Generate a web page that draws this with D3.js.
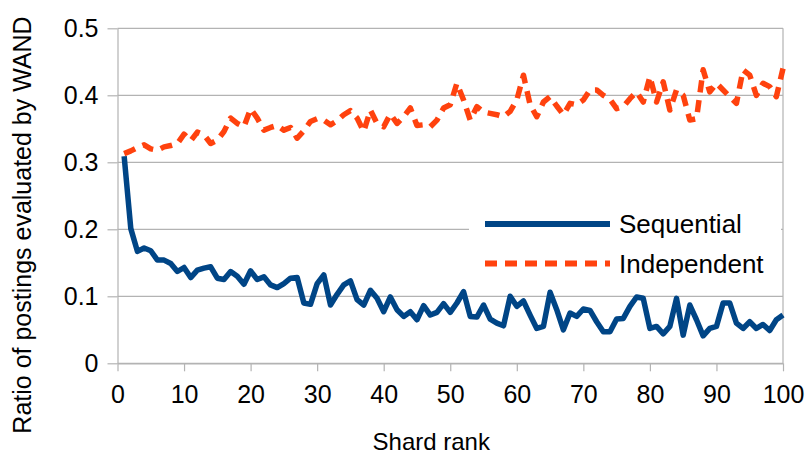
<!DOCTYPE html>
<html>
<head>
<meta charset="utf-8">
<script src="https://cdn.jsdelivr.net/npm/d3@7"></script>
<style>
  body { margin: 0; background: #fff; }
  svg { font-family: "Liberation Sans", Arial, sans-serif; }
</style>
</head>
<body>
<svg id="chart" width="806" height="457"></svg>
<script>
// shard rank 1..100
const ranks = d3.range(1, 101);

const sequential = [
  0.309, 0.201, 0.167, 0.172, 0.168, 0.154, 0.154, 0.149, 0.137, 0.143,
  0.128, 0.139, 0.142, 0.144, 0.127, 0.125, 0.137, 0.130, 0.118, 0.138,
  0.125, 0.129, 0.117, 0.113, 0.119, 0.127, 0.128, 0.090, 0.088, 0.119,
  0.132, 0.087, 0.103, 0.117, 0.123, 0.095, 0.087, 0.109, 0.097, 0.077,
  0.099, 0.080, 0.070, 0.077, 0.065, 0.086, 0.072, 0.076, 0.089, 0.076,
  0.090, 0.107, 0.070, 0.069, 0.087, 0.066, 0.060, 0.056, 0.100, 0.085,
  0.093, 0.072, 0.052, 0.055, 0.106, 0.080, 0.050, 0.075, 0.070, 0.081,
  0.079, 0.062, 0.047, 0.047, 0.066, 0.067, 0.085, 0.099, 0.097, 0.052,
  0.055, 0.044, 0.055, 0.097, 0.042, 0.087, 0.065, 0.041, 0.052, 0.055,
  0.090, 0.090, 0.060, 0.052, 0.062, 0.052, 0.058, 0.049, 0.065, 0.072
];

const independent = [
  0.313, 0.317, 0.322, 0.326, 0.320, 0.318, 0.323, 0.325, 0.328, 0.342,
  0.332, 0.345, 0.341, 0.328, 0.333, 0.346, 0.366, 0.358, 0.353, 0.380,
  0.366, 0.348, 0.352, 0.355, 0.348, 0.352, 0.336, 0.347, 0.361, 0.365,
  0.363, 0.356, 0.362, 0.371, 0.377, 0.366, 0.346, 0.378, 0.358, 0.353,
  0.372, 0.358, 0.368, 0.381, 0.355, 0.356, 0.353, 0.363, 0.381, 0.386,
  0.418, 0.393, 0.363, 0.383, 0.375, 0.373, 0.371, 0.368, 0.376, 0.393,
  0.430, 0.386, 0.368, 0.390, 0.398, 0.384, 0.371, 0.388, 0.386, 0.393,
  0.408, 0.408, 0.400, 0.394, 0.380, 0.383, 0.395, 0.405, 0.390, 0.428,
  0.390, 0.420, 0.378, 0.408, 0.400, 0.363, 0.365, 0.438, 0.405, 0.418,
  0.408, 0.398, 0.388, 0.438, 0.430, 0.400, 0.418, 0.413, 0.398, 0.440
];

const seriesNames = ["Sequential", "Independent"];
const xTicks = [0, 10, 20, 30, 40, 50, 60, 70, 80, 90, 100];
const yTicks = [0, 0.1, 0.2, 0.3, 0.4, 0.5];

const svg = d3.select("#chart");
const plot = { left: 117.5, right: 783, top: 28.3, bottom: 363.3 };

const x = d3.scaleLinear().domain([0, 100]).range([plot.left, plot.right]);
const y = d3.scaleLinear().domain([0, 0.5]).range([plot.bottom, plot.top]);

const gridColor = "#b3b3b3";

// horizontal gridlines
svg.append("g")
  .selectAll("line")
  .data(yTicks)
  .join("line")
  .attr("x1", plot.left).attr("x2", plot.right)
  .attr("y1", d => y(d)).attr("y2", d => y(d))
  .attr("stroke", gridColor)
  .attr("stroke-width", 1.2);

// right border of plot area
svg.append("line")
  .attr("x1", plot.right).attr("x2", plot.right)
  .attr("y1", plot.top).attr("y2", plot.bottom)
  .attr("stroke", gridColor)
  .attr("stroke-width", 1.2);

// axes
const xAxis = svg.append("g")
  .attr("transform", `translate(0,${plot.bottom})`)
  .call(d3.axisBottom(x).tickValues(xTicks).tickSize(8).tickSizeOuter(0).tickPadding(14));

const yAxis = svg.append("g")
  .attr("transform", `translate(${plot.left},0)`)
  .call(d3.axisLeft(y).tickValues(yTicks).tickSize(10).tickSizeOuter(0).tickPadding(9)
    .tickFormat(d => d === 0 ? "0" : d3.format(".1f")(d)));

[xAxis, yAxis].forEach(a => {
  a.select(".domain").attr("stroke", gridColor).attr("stroke-width", 1.2);
  a.selectAll(".tick line").attr("stroke", gridColor).attr("stroke-width", 1.2);
  a.selectAll(".tick text")
    .attr("fill", "#000")
    .style("font-size", "25px")
    .style("font-family", "'Liberation Sans', Arial, sans-serif");
});

// legend background (hides gridline behind it)
svg.append("rect")
  .attr("x", 469).attr("y", 200)
  .attr("width", 312).attr("height", 85)
  .attr("fill", "#fff");

// series lines
const line = d3.line()
  .x((d, i) => x(ranks[i]))
  .y(d => y(d));

const styles = [
  { color: "#004586", dash: null },
  { color: "#ff420e", dash: "12,8" }
];

[sequential, independent].forEach((vals, k) => {
  svg.append("path")
    .datum(vals)
    .attr("fill", "none")
    .attr("stroke", styles[k].color)
    .attr("stroke-width", 5.5)
    .attr("stroke-linejoin", "round")
    .attr("stroke-dasharray", styles[k].dash)
    .attr("d", line);
});

// legend
const legend = svg.append("g");
seriesNames.forEach((name, k) => {
  const ly = 224 + k * 39.5;
  legend.append("line")
    .attr("x1", 485).attr("x2", 610)
    .attr("y1", ly).attr("y2", ly)
    .attr("stroke", styles[k].color)
    .attr("stroke-width", 6)
    .attr("stroke-dasharray", styles[k].dash);
  legend.append("text")
    .attr("x", 619).attr("y", ly + 9)
    .style("font-size", "26px")
    .text(name);
});

// axis titles
svg.append("text")
  .attr("x", (plot.left + plot.right) / 2 - 19).attr("y", 450)
  .attr("text-anchor", "middle")
  .style("font-size", "24px")
  .text("Shard rank");

svg.append("text")
  .attr("transform", "translate(31,225) rotate(-90)")
  .attr("text-anchor", "middle")
  .style("font-size", "25px")
  .text("Ratio of postings evaluated by WAND");
</script>
</body>
</html>
